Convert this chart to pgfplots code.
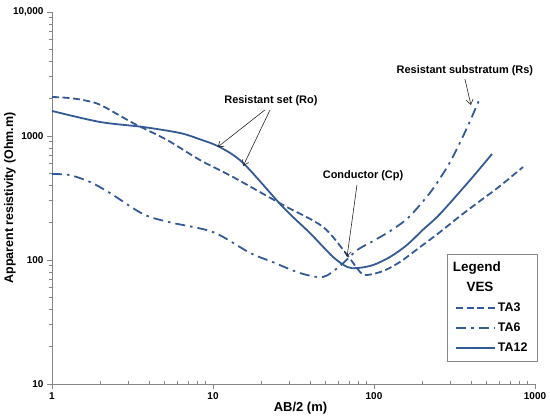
\documentclass[border=0pt]{standalone}
\usepackage{fontspec}
\setmainfont{Liberation Sans}
\usepackage{pgfplots}
\pgfplotsset{compat=1.18}
\usetikzlibrary{arrows.meta}
\definecolor{vesblue}{RGB}{52,90,150}
\definecolor{axgray}{RGB}{134,134,134}

\begin{document}
\begin{tikzpicture}[
  note/.style={font=\fontsize{11}{13}\selectfont\bfseries, text=black},
  pointer/.style={black!85, line width=0.6bp, -{Straight Barb[length=5bp,width=7bp]}}]
\useasboundingbox (-52bp,-36bp) rectangle (498bp,384bp);
\begin{axis}[
  at={(0,0)}, anchor=south west,
  scale only axis, width=483bp, height=372bp,
  xmode=log, ymode=log,
  xmin=1, xmax=1000, ymin=10, ymax=10000,
  axis x line=bottom, axis y line=left,
  axis line style={axgray, line width=0.8bp, -},
  clip=false,
  xtick={1,10,100,1000}, xticklabels={1,10,100,1000},
  ytick={10,100,1000,10000}, yticklabels={10,100,1000,{10,000}},
  minor xtick={2,3,...,9,20,30,...,90,200,300,...,900},
  minor ytick={20,30,...,90,200,300,...,900,2000,3000,...,9000},
  tick style={axgray, line width=0.8bp},
  tick align=outside,
  major tick length=5bp, minor tick length=3bp,
  minor x tick style={yshift=3bp},
  xticklabel style={font=\fontsize{10}{12}\selectfont\bfseries},
  yticklabel style={font=\fontsize{10}{12}\selectfont\bfseries},
  xlabel={AB/2 (m)},
  every axis x label/.style={at={(axis description cs:0.5,0)}, anchor=center,
    yshift=-24bp, xshift=7bp, font=\fontsize{13}{15}\selectfont\bfseries},
  ylabel={Apparent resistivity (Ohm.m)},
  every axis y label/.style={at={(axis description cs:-0.087,0.5)}, rotate=90,
    anchor=center, font=\fontsize{12.5}{15}\selectfont\bfseries},
  legend image code/.code={\draw[vesblue, line width=1.8bp, #1] (0bp,0bp) -- (39bp,0bp);},
  legend style={at={(rel axis cs:1.006,0.059)}, anchor=south east,
    draw=axgray, line width=0.8bp, fill=white,
    font=\fontsize{12.5}{14}\selectfont\bfseries,
    cells={anchor=west}, inner xsep=8bp, inner ysep=5bp, row sep=3bp,
    nodes={text height=10bp, text depth=3bp}},
]
\addlegendimage{empty legend}
\addlegendentry{\hspace{-45bp}\fontsize{13.5}{18}\selectfont Legend\rule[-8bp]{0pt}{0pt}}
\addlegendimage{empty legend}
\addlegendentry{\hspace{-33bp}\fontsize{13.5}{18}\selectfont VES}

% TA3
\addplot[vesblue, line width=1.8bp, dash pattern=on 7bp off 3.5bp, smooth] coordinates {
  (1,2065) (1.25,2030) (1.56,1950) (2,1780) (3.18,1274) (5.18,929) (8.3,640)
  (13.3,467) (27.2,278) (48.2,185) (68,110) (82,80) (90.5,75.7)
  (114,81.5) (145,96.4) (193,127) (257,168) (342,226) (455,299)
  (606,395) (842,562)};
\addlegendentry{TA3}

% TA6
\addplot[vesblue, line width=1.8bp, dash pattern=on 10bp off 5bp on 2.5bp off 5bp, smooth] coordinates {
  (1,494) (1.29,484) (1.72,426) (2.29,347) (3.67,235) (5.33,202)
  (10,168) (17,114) (23.6,96) (34.7,78.5) (48.2,73) (61.5,89.6)
  (78.4,120) (98.6,142) (126,171) (160,214) (193,278) (232,374)
  (297,617) (378,1161) (455,2024)};
\addlegendentry{TA6}

% TA12
\addplot[vesblue, line width=1.8bp, smooth] coordinates {
  (1,1592) (1.99,1297) (3.67,1183) (6.24,1057) (8.3,940) (11,815)
  (15.4,605) (27.2,267) (40,165) (55.6,106) (68,88) (78.4,86)
  (98.6,91) (126,106) (160,132) (201,175) (257,235) (395,441)
  (541,716)};
\addlegendentry{TA12}

\node[note] at (axis cs:22.9,1914) {Resistant set (Ro)};
\draw[pointer] (axis cs:21,1622) -- (axis cs:10.7,815);
\draw[pointer] (axis cs:22.6,1622) -- (axis cs:15.4,573);
\node[note] at (axis cs:367,3342) {Resistant substratum (Rs)};
\draw[pointer] (axis cs:367,2886) -- (axis cs:400,1778);
\node[note] at (axis cs:85.5,475) {Conductor (Cp)};
\draw[pointer] (axis cs:78.4,403) -- (axis cs:68,106);
\end{axis}
\end{tikzpicture}
\end{document}
